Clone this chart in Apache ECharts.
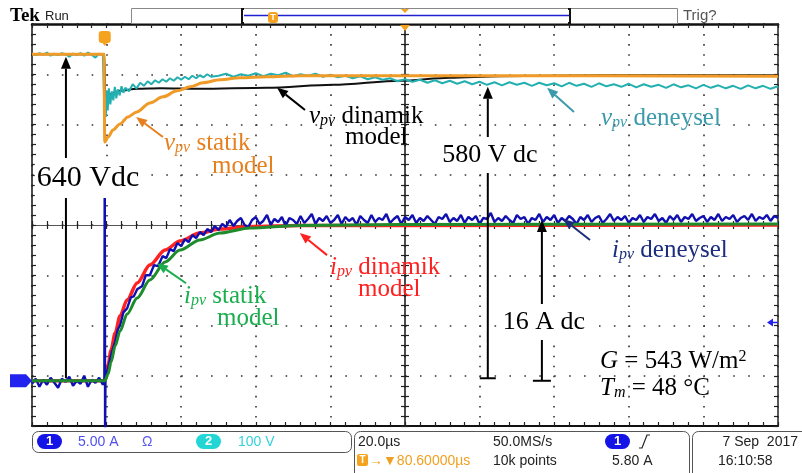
<!DOCTYPE html>
<html>
<head>
<meta charset="utf-8">
<script src="https://cdn.jsdelivr.net/npm/echarts@6/dist/echarts.min.js"></script>
<style>
html,body{margin:0;padding:0;background:#fff;}
#scope{width:802px;height:473px;}
</style>
</head>
<body>
<div id="scope"></div>
<script>
// Horizontal: 20 µs/div over 10 divisions
const timeRange = [0, 200];
const timeDiv = 20;
const triggerTime = 19.5;
// Vertical screen: 8 divisions; CH1 current 5 A/div, CH2 voltage 100 V/div
const divRange = [0, 8];
const currentRange = [-4.5, 35.5];
const voltageRange = [-95, 705];
const triggerLevel = 5.8;

// Annotated DC levels
const vpvInitialDC = 640;
const vpvFinalDC = 580;
const ipvFinalDC = 16;

// PV voltage – static model (V)
const vpvStatic = [[0,645],[19.3,645],[19.5,470],[20.4,480],[21.7,494],[23.6,506],[25.7,520],[28.1,530],
  [31.6,548],[35.1,560],[38.9,572],[42.4,580],[45.8,588],[50.4,594],[55.8,598],[63,600],[71.8,602],
  [98.7,602],[152,602],[200,601]];

// PV voltage – dynamic model (V)
const vpvDynamic = [[0,645],[19.4,645],[19.6,554],[20.4,562],[21.7,568],[23.6,572],[28.2,576],[34.3,577],
  [45,576],[63,578],[80.7,584],[98.7,592],[112,598],[125.5,601],[152,603],[200,603]];

// PV voltage – measured (V)
const vpvMeasured = [[0,646],[1,643],[2,647],[3,644],[4,648],[5,642],[6,646],[7,643],[8,647],[9,645],
  [10,640],[11,646],[12,643],[13,647],[14,642],[15,648],[16,644],[17,638],[18,646],[19,643],
  [19.4,646],[19.5,510],[19.6,560],[19.8,520],[20.0,573],[20.3,533],[20.6,577],[21.0,545],[21.4,571],
  [21.8,553],[22.2,580],[22.6,557],[23.0,575],[23.5,563],[24,581],[24.5,568],[25,578],[26,571],[27,585],
  [28,577],[29,588],[30,582],[31,591],[32,585],[33,593],[34,588],[35,595],[36,590],[37,597],[38,592],
  [39,599],[40,594],[41,600],[42,595],[43,602],[44,597],[45,603],[46,599],[47,605],[48,600],
  [50,602],[52,606],[54,600],[56,605],[58,602],[60,607],[62,601],[64,606],[66,603],[68,608],[70,601],
  [72,605],[74,602],[76,606],[78,600],[80,604],[82,599],[84,602],[86,597],[88,601],[90,595],[92,599],
  [94,594],[96,597],[98,591],[100,595],[102,590],[104,594],[106,588],[108,593],[110,587],[112,592],
  [114,586],[116,591],[118,585],[120,590],[122,584],[124,589],[126,583],[128,589],[130,584],[132,588],
  [134,582],[136,588],[138,583],[140,587],[142,581],[144,588],[146,582],[148,586],[150,580],[152,587],
  [154,581],[156,585],[158,580],[160,586],[162,579],[164,585],[166,580],[168,584],[170,578],[172,585],
  [174,579],[176,583],[178,577],[180,584],[182,578],[184,583],[186,577],[188,582],[190,576],[192,583],
  [194,577],[196,582],[198,576],[200,581]];

// PV current – dynamic model (A)
const ipvDynamic = [[0,0],[19.5,0],[20.4,1.57],[21.2,3.06],[22.3,4.75],[23.6,6.45],[25.5,8.04],[28.2,9.73],
  [31.6,11.52],[35.7,13.01],[39.7,13.91],[45,14.7],[50.4,15.1],[58.4,15.35],[71.8,15.45],[98.7,15.45],[200,15.5]];

// PV current – static model (A)
const ipvStatic = [[0,0],[19.5,0],[20.4,0.67],[21.2,1.87],[22.3,3.46],[23.6,4.95],[25.5,6.64],[28.2,8.24],
  [31.6,10.03],[35.7,11.82],[39.7,13.01],[45,14.01],[50.4,14.7],[58.4,15.2],[71.8,15.45],[98.7,15.55],[200,15.6]];

// PV current – measured (A)
const ipvMeasured = [[0,-0.3],[1,0.2],[2,-0.6],[3,0.1],[4,-0.4],[5,0.3],[6,-0.2],[7,-0.7],[8,0.2],[9,-0.1],
  [10,0.4],[11,-0.5],[12,0.0],[13,-0.3],[14,0.5],[15,-0.6],[16,0.1],[17,-0.2],[18,0.3],[19,-0.4],
  [19.4,0.2],[19.5,22],[19.6,-5],[19.7,0.3],[20.3,1.1],[21.2,2.6],[22.3,3.9],[23.0,5.1],[23.6,5.5],
  [24.5,6.8],[25.5,7.2],[26.5,8.3],[27.3,8.4],[28.2,9.1],[29.5,9.4],[30.5,10.5],[31.6,10.5],[32.7,11.5],
  [33.8,11.4],[35,12.4],[36,12.2],[37,13.1],[38,12.9],[39,13.7],[40,13.4],[41,14.1],[42,13.8],[43,14.5],
  [44,14.2],[45,14.8],[46,14.5],[47,15.1],[48,14.8],[49,15.4],[50,15.0],[51,15.6],[52,15.3],
  [53,16.0],[54,15.4],[55,15.9],[56,16.2],[57,15.5],[58,15.3],[59,16.0],[60,16.3],[61,15.6],[62,15.9],
  [63,16.5],[64,15.5],[65,16.1],[66,15.8],[67,16.3],[68,15.4],[69,16.2],[70,16.0],[71,15.6],[72,16.4],
  [73,15.7],[74,16.1],[75,16.6],[76,15.6],[77,16.2],[78,15.9],[79,16.4],[80,15.7],[81,16.0],[82,16.5],
  [83,15.6],[84,16.3],[85,15.9],[86,16.2],[87,15.5],[88,16.4],[89,16.0],[90,15.7],[91,16.5],[92,15.8],
  [93,16.2],[94,16.0],[95,16.6],[96,15.7],[97,16.1],[98,16.4],[99,15.6],[100,16.3],[101,16.0],[102,16.5],
  [103,15.7],[104,16.2],[105,15.9],[106,16.4],[107,16.0],[108,15.6],[109,16.3],[110,16.1],[111,16.6],
  [112,15.8],[113,16.2],[114,15.9],[115,16.5],[116,15.7],[117,16.3],[118,16.0],[119,16.4],[120,15.6],
  [121,16.2],[122,16.1],[123,16.7],[124,15.8],[125,16.2],[126,15.9],[127,16.4],[128,16.0],[129,15.7],
  [130,16.5],[131,16.1],[132,16.3],[133,15.6],[134,16.2],[135,16.0],[136,16.6],[137,15.8],[138,16.3],
  [139,16.0],[140,16.5],[141,15.7],[142,16.2],[143,15.9],[144,16.4],[145,16.1],[146,15.6],[147,16.3],
  [148,16.0],[149,16.5],[150,15.8],[151,16.2],[152,16.4],[153,15.7],[154,16.1],[155,16.6],[156,15.9],
  [157,16.3],[158,16.0],[159,16.4],[160,15.7],[161,16.2],[162,16.0],[163,16.5],[164,15.8],[165,16.3],
  [166,16.1],[167,16.6],[168,15.9],[169,16.2],[170,15.7],[171,16.4],[172,16.0],[173,16.5],[174,15.8],
  [175,16.3],[176,16.1],[177,16.6],[178,15.9],[179,16.2],[180,16.4],[181,15.8],[182,16.3],[183,16.0],
  [184,16.6],[185,15.9],[186,16.3],[187,16.1],[188,16.5],[189,15.8],[190,16.2],[191,16.4],[192,16.0],
  [193,16.6],[194,15.9],[195,16.3],[196,16.1],[197,16.5],[198,15.9],[199,16.4],[200,16.2]];

const SERIF = '"Liberation Serif", "Times New Roman", serif';
const SANS = '"Liberation Sans", Arial, sans-serif';

const chart = echarts.init(document.getElementById('scope'), null, {renderer: 'canvas'});

function scopeAxis(base, extra) {
  return Object.assign({
    type: 'value',
    axisLabel: {show: false},
    splitLine: {show: false},
    axisLine: {show: true, onZero: false, lineStyle: {color: '#111', width: 1.5}},
    axisTick: {show: true, inside: true, length: 4, lineStyle: {color: '#222', width: 1.2}},
    minorTick: {show: true, splitNumber: 5, length: 4, lineStyle: {color: '#222', width: 1.2}}
  }, base, extra);
}
const tBase = {min: timeRange[0], max: timeRange[1], interval: timeDiv};
const dBase = {min: divRange[0], max: divRange[1], interval: 1};

const option = {
  animation: false,
  backgroundColor: '#fff',
  grid: {left: 32, top: 24, width: 746, height: 402, containLabel: false, outerBoundsMode: 'none'},
  xAxis: [
    scopeAxis(tBase, {position: 'bottom', axisLine: {show: true, onZero: false, lineStyle: {color: '#111', width: 2}},
      splitLine: {show: true, lineStyle: {color: '#333', width: 1.6, type: [1.6, 8.45]}}}),
    scopeAxis(tBase, {position: 'top', axisLine: {show: true, onZero: false, lineStyle: {color: '#111', width: 2.5}}}),
    scopeAxis(tBase, {position: 'bottom', offset: -201, axisLine: {show: true, onZero: false, lineStyle: {color: '#555', width: 1}}}),
    scopeAxis(tBase, {position: 'top', offset: -201, axisLine: {show: false, onZero: false}})
  ],
  yAxis: [
    scopeAxis(dBase, {position: 'left', splitLine: {show: true, lineStyle: {color: '#333', width: 1.6, type: [1.6, 13.32]}}}),
    scopeAxis(dBase, {position: 'right', axisLine: {show: true, onZero: false, lineStyle: {color: '#222', width: 1.5}}}),
    scopeAxis(dBase, {position: 'left', offset: -373, axisLine: {show: true, onZero: false, lineStyle: {color: '#111', width: 1.5}}}),
    scopeAxis(dBase, {position: 'right', offset: -373, axisLine: {show: false, onZero: false}}),
    {type: 'value', show: false, min: currentRange[0], max: currentRange[1]},
    {type: 'value', show: false, min: voltageRange[0], max: voltageRange[1]}
  ],
  series: [
    {name: 'vpv dinamik', type: 'line', xAxisIndex: 0, yAxisIndex: 5, data: vpvDynamic, showSymbol: false,
      smooth: 0.3, smoothMonotone: 'x', lineStyle: {color: '#111', width: 2}, z: 2},
    {name: 'vpv deneysel', type: 'line', xAxisIndex: 0, yAxisIndex: 5, data: vpvMeasured, showSymbol: false,
      lineStyle: {color: '#24b0b0', width: 2}, z: 3},
    {name: 'vpv statik', type: 'line', xAxisIndex: 0, yAxisIndex: 5, data: vpvStatic, showSymbol: false,
      smooth: 0.3, smoothMonotone: 'x', lineStyle: {color: '#f09a28', width: 3}, z: 4},
    {name: 'ipv dinamik', type: 'line', xAxisIndex: 0, yAxisIndex: 4, data: ipvDynamic, showSymbol: false,
      smooth: 0.3, smoothMonotone: 'x', lineStyle: {color: '#ff2222', width: 3.5}, z: 2},
    {name: 'ipv deneysel', type: 'line', xAxisIndex: 0, yAxisIndex: 4, data: ipvMeasured, showSymbol: false,
      lineStyle: {color: '#1010b0', width: 2.4}, z: 3},
    {name: 'ipv statik', type: 'line', xAxisIndex: 0, yAxisIndex: 4, data: ipvStatic, showSymbol: false,
      smooth: 0.3, smoothMonotone: 'x', lineStyle: {color: '#1e8c2c', width: 3}, z: 4}
  ]
};
chart.setOption(option);

// ---------- overlay: annotations, markers and status bar ----------
const V = (t, v) => chart.convertToPixel({xAxisIndex: 0, yAxisIndex: 5}, [t, v]);
const A = (t, a) => chart.convertToPixel({xAxisIndex: 0, yAxisIndex: 4}, [t, a]);
const g = [];

function arrow(from, tip, color, width, headLen, headW) {
  const dx = tip[0] - from[0], dy = tip[1] - from[1];
  const L = Math.hypot(dx, dy), ux = dx / L, uy = dy / L;
  const bx = tip[0] - ux * headLen, by = tip[1] - uy * headLen;
  g.push({type: 'line', z: 50, shape: {x1: from[0], y1: from[1], x2: bx, y2: by}, style: {stroke: color, lineWidth: width}});
  g.push({type: 'polygon', z: 50, shape: {points: [[tip[0], tip[1]], [bx - uy * headW / 2, by + ux * headW / 2], [bx + uy * headW / 2, by - ux * headW / 2]]},
    style: {fill: color}});
}
function text(x, y, str, opts) {
  g.push({type: 'text', z: 60, x: x, y: y, style: Object.assign({
    text: str, fill: '#111', font: '14px ' + SANS, align: 'left', verticalAlign: 'middle',
    textAlign: 'left', textVerticalAlign: 'middle'}, opts)});
}
function serifRich(color, size) {
  const sub = Math.round(size * 0.65);
  return {
    i: {fontStyle: 'italic', fontSize: size, fontFamily: SERIF, fill: color, color: color},
    s: {fontStyle: 'italic', fontSize: sub, fontFamily: SERIF, fill: color, color: color, lineHeight: 10, verticalAlign: 'bottom'},
    r: {fontSize: size, fontFamily: SERIF, fill: color, color: color},
    u: {fontSize: sub, fontFamily: SERIF, fill: color, color: color, lineHeight: 10, verticalAlign: 'top'}
  };
}
function label(x, y, str, color, size) {
  text(x, y, str, {fill: color, font: size + 'px ' + SERIF, rich: serifRich(color, size)});
}

// Dimension arrows for the DC levels
function dimension(p0, p1, bar, str, tx, ty, size) {
  arrow(p0, p1, '#000', 2, 12, 10);
  if (bar) g.push({type: 'line', z: 50, shape: {x1: p0[0] - bar, y1: p0[1], x2: p0[0] + bar, y2: p0[1]}, style: {stroke: '#000', lineWidth: 2}});
  text(tx, ty, str, {fill: '#000', font: size + 'px ' + SERIF, align: 'center', textAlign: 'center',
    backgroundColor: '#fff', padding: [5, 2, 5, 2]});
}
dimension(V(9.1, 0), V(9.1, vpvInitialDC), 0, vpvInitialDC + ' Vdc', 88, 178, 30);
dimension(V(122.2, 0), V(122.2, vpvFinalDC), 8, vpvFinalDC + ' V dc', 490, 155, 26);
dimension(A(136.7, 0), A(136.7, ipvFinalDC), 9, ipvFinalDC + ' A dc', 544, 322, 26);

// Curve pointers and their captions
const cOrange = '#e6801f', cTeal = '#3b9aab', cRed = '#ff2020', cGreen = '#1aae4e', cNavy = '#1d2d7d';
arrow(V(35.1, 480), V(27.9, 520), cOrange, 2, 11, 9);
label(164, 143, '{i|v}{s|pv} {r|statik}', cOrange, 25);
label(212, 166, '{r|model}', cOrange, 25);

arrow(V(73.2, 534), V(65.7, 578), '#000', 2, 11, 9);
label(309, 116, '{i|v}{s|pv} {r|dinamik}', '#000', 25);
label(345, 137, '{r|model}', '#000', 25);

arrow(V(145.3, 530), V(138.1, 578), cTeal, 2, 11, 9);
label(601, 118, '{i|v}{s|pv} {r|deneysel}', cTeal, 25);

arrow(A(79.1, 12.5), A(71.8, 14.7), cRed, 2, 11, 9);
label(330, 267, '{i|i}{s|pv} {r|dinamik}', cRed, 25);
label(358, 289, '{r|model}', cRed, 25);

arrow(A(41.3, 9.7), A(33.5, 11.7), cGreen, 2, 11, 9);
label(184, 296, '{i|i}{s|pv} {r|statik}', cGreen, 25);
label(217, 318, '{r|model}', cGreen, 25);

arrow(A(149.6, 14.0), A(142.4, 16.1), cNavy, 2, 11, 9);
label(612, 250, '{i|i}{s|pv} {r|deneysel}', cNavy, 25);

label(600, 361, '{i|G} {r|= 543 W/m}{u|2}', '#000', 25);
label(600, 388, '{i|T}{s|m} {r|= 48 °C}', '#000', 25);

// Scope screen markers
const trig = V(triggerTime, 0);
g.push({type: 'rect', z: 70, shape: {x: trig[0] - 6, y: 31, width: 12, height: 12, r: 3}, style: {fill: '#f5a21e'}});
g.push({type: 'polygon', z: 70, shape: {points: [[trig[0] - 3, 42], [trig[0] + 3, 42], [trig[0], 46]]}, style: {fill: '#f5a21e'}});
text(trig[0], 37.5, 'T', {fill: '#fff', font: 'bold 11px ' + SANS, align: 'center', textAlign: 'center'});
const mid = V(100, 0);
g.push({type: 'polygon', z: 70, shape: {points: [[mid[0] - 5, 25], [mid[0] + 5, 25], [mid[0], 31]]}, style: {fill: '#f5a21e'}});

const gnd = A(0, 0);
g.push({type: 'polygon', z: 70, shape: {points: [[10, gnd[1] - 6.5], [26, gnd[1] - 6.5], [32, gnd[1]], [26, gnd[1] + 6.5], [10, gnd[1] + 6.5]]}, style: {fill: '#2222ee'}});
text(18, gnd[1], '1', {fill: '#0a0a70', font: '12px ' + SANS, align: 'center', textAlign: 'center'});

const lvl = A(200, triggerLevel);
g.push({type: 'polygon', z: 70, shape: {points: [[lvl[0] - 11, lvl[1]], [lvl[0] - 5, lvl[1] - 4], [lvl[0] - 5, lvl[1] + 4]]}, style: {fill: '#2222ee'}});
g.push({type: 'line', z: 70, shape: {x1: lvl[0] - 6, y1: lvl[1], x2: lvl[0], y2: lvl[1]}, style: {stroke: '#2222ee', lineWidth: 1.5}});

// Header
text(10, 16, 'Tek', {fill: '#000', font: 'bold 19px ' + SERIF});
text(45, 16, 'Run', {fill: '#222', font: '13px ' + SANS});
g.push({type: 'rect', z: 40, shape: {x: 131.5, y: 8.5, width: 546, height: 15}, style: {fill: '#fff', stroke: '#888', lineWidth: 1}});
g.push({type: 'line', z: 41, shape: {x1: 244, y1: 15.5, x2: 569, y2: 15.5}, style: {stroke: '#2020d0', lineWidth: 1.5}});
g.push({type: 'polyline', z: 41, shape: {points: [[244, 9], [242, 9], [242, 23], [244, 23]]}, style: {stroke: '#111', lineWidth: 2, fill: null}});
g.push({type: 'polyline', z: 41, shape: {points: [[568, 9], [570, 9], [570, 23], [568, 23]]}, style: {stroke: '#111', lineWidth: 2, fill: null}});
g.push({type: 'rect', z: 42, shape: {x: 268, y: 12, width: 10, height: 11, r: 3}, style: {fill: '#f5a21e'}});
text(273, 17.5, 'T', {fill: '#fff', font: 'bold 9px ' + SANS, align: 'center', textAlign: 'center'});
g.push({type: 'polygon', z: 42, shape: {points: [[mid[0] - 4, 9], [mid[0] + 4, 9], [mid[0], 13]]}, style: {fill: '#f5a21e'}});
text(683, 16, 'Trig?', {fill: '#555', font: '15px ' + SANS});

// Status bar
const boxStroke = {stroke: '#555', lineWidth: 1, fill: '#fff'};
g.push({type: 'rect', z: 40, shape: {x: 32.5, y: 431.5, width: 319, height: 21, r: 6}, style: boxStroke});
g.push({type: 'rect', z: 40, shape: {x: 354.5, y: 431.5, width: 335, height: 60, r: 6}, style: boxStroke});
g.push({type: 'rect', z: 40, shape: {x: 692.5, y: 431.5, width: 130, height: 60, r: 6}, style: boxStroke});

function pill(x, y, str, color) {
  g.push({type: 'rect', z: 45, shape: {x: x, y: y - 7.5, width: 25, height: 15, r: 7.5}, style: {fill: color}});
  text(x + 12.5, y, str, {fill: '#fff', font: 'bold 13px ' + SANS, align: 'center', textAlign: 'center'});
}
pill(37, 441.5, '1', '#1414e6');
text(78, 442, '5.00 A', {fill: '#4f4ff0'});
text(142, 442, 'Ω', {fill: '#5a5af0'});
pill(196, 441.5, '2', '#22d6d6');
text(238, 442, '100 V', {fill: '#33d3da'});

text(358, 442, '20.0µs', {fill: '#222'});
g.push({type: 'rect', z: 45, shape: {x: 357, y: 454, width: 11, height: 12, r: 2}, style: {fill: '#f5a21e'}});
text(362.5, 460, 'T', {fill: '#fff', font: 'bold 10px ' + SANS, align: 'center', textAlign: 'center'});
text(369, 461, '→▼80.60000µs', {fill: '#f0a020'});
text(493, 442, '50.0MS/s', {fill: '#222'});
text(493, 461, '10k points', {fill: '#222'});
pill(605, 441.5, '1', '#1414e6');
g.push({type: 'polyline', z: 45, shape: {points: [[639, 448], [642, 448], [647, 435], [650, 435]]}, style: {stroke: '#222', lineWidth: 1.2, fill: null}});
text(612, 461, '5.80 A', {fill: '#222'});

text(798, 442, '7 Sep  2017', {fill: '#222', align: 'right', textAlign: 'right'});
text(718, 461, '16:10:58', {fill: '#222'});

chart.setOption({graphic: {elements: g}});
</script>
</body>
</html>
